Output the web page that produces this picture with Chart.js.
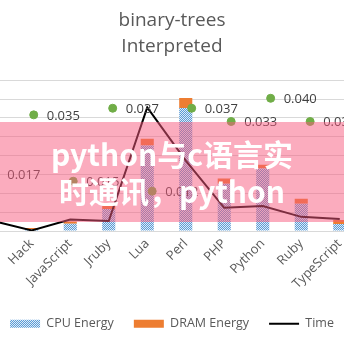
<!DOCTYPE html>
<html><head><meta charset="utf-8">
<script src="https://cdn.jsdelivr.net/npm/chart.js@4.4.1/dist/chart.umd.min.js"></script>
<style>
html,body{margin:0;padding:0;background:#fff;overflow:hidden;width:344px;height:344px;position:relative}
#c{position:absolute;left:-31px;top:0}
#wm{position:absolute;left:0;top:122px;width:344px;height:100px;background:rgba(247,90,125,0.5);display:flex;flex-direction:column;justify-content:center;align-items:center;color:#fff;font-family:'Noto Sans CJK SC';font-weight:700;font-size:30px;line-height:37px;white-space:nowrap}
</style></head><body>
<canvas id="c" width="406" height="344"></canvas>
<div id="wm"><div>python与c语言实</div><div>时通讯，python</div></div>
<script>
const categories = ['Dart','Hack','JavaScript','Jruby','Lua','Perl','PHP','Python','Ruby','TypeScript'];
const cpuEnergy = [3.0,0.8,3.9,11.7,45.3,65.3,25.1,33.1,14.4,3.7];
const dramEnergy = [0.5,0.8,1.2,1.6,3.7,5.3,2.7,2.1,2.7,2.1];
const timeValues = [5.3,0.3,6.1,5.3,65.6,37.3,12.3,13.3,7.5,6.4];
const pointValues = [0.017,0.035,0.015,0.037,0.012,0.037,0.033,0.040,0.033,0.030];
const pointLabels = ['0.017','0.035','0.015','0.037','0.012','0.037','0.033','0.040','0.033','0.030'];
const seriesNames = ['CPU Energy','DRAM Energy','Time'];
const titleLines = ['binary-trees','Interpreted'];

// hatched fill for CPU Energy
const pc = document.createElement('canvas');
pc.width = 4; pc.height = 4;
const pctx = pc.getContext('2d');
pctx.fillStyle = '#DDEBF7'; pctx.fillRect(0,0,4,4);
pctx.fillStyle = '#5B9BD5';
[[0,0],[2,0],[1,1],[3,1],[0,2],[2,2],[1,3],[3,3]].forEach(([a,b])=>pctx.fillRect(a,b,1,1));
const cpuPattern = pctx.createPattern(pc,'repeat');

const dotLabels = {
  id:'dotLabels',
  afterDatasetsDraw(chart){
    const meta = chart.getDatasetMeta(3);
    const ctx = chart.ctx;
    ctx.save();
    ctx.font = '13px "Open Sans"';
    ctx.fillStyle = '#404040';
    ctx.textAlign = 'left';
    ctx.textBaseline = 'middle';
    meta.data.forEach((p,i)=>ctx.fillText(pointLabels[i], p.x+13, p.y+1));
    ctx.restore();
  }
};

new Chart(document.getElementById('c').getContext('2d'), {
  type:'bar',
  data:{
    labels:categories,
    datasets:[
      {label:seriesNames[0], data:cpuEnergy, backgroundColor:cpuPattern, borderWidth:0, stack:'e', grouped:false, order:3, barPercentage:0.34, categoryPercentage:1},
      {label:seriesNames[1], data:dramEnergy, backgroundColor:'#ED7D31', borderWidth:0, stack:'e', grouped:false, order:3, barPercentage:0.34, categoryPercentage:1},
      {type:'line', label:seriesNames[2], data:timeValues, borderColor:'#000000', backgroundColor:'#000000', borderWidth:2, pointRadius:0, fill:false, tension:0, yAxisID:'yT', order:1},
      {type:'line', label:'points', data:pointValues.map((v,i)=>({x:i,y:v})), xAxisID:'xD', yAxisID:'yD', showLine:false, pointRadius:4, pointBackgroundColor:'#70AD47', pointBorderColor:'#70AD47', borderColor:'#70AD47', order:0}
    ]
  },
  options:{
    responsive:false, animation:false, devicePixelRatio:1,
    layout:{padding:{left:0,right:0,top:0,bottom:4}},
    scales:{
      x:{stacked:true, grid:{display:false}, border:{color:'#D9D9D9'},
         ticks:{autoSkip:false,maxRotation:45,minRotation:45,padding:-3,color:'#595959',font:{family:'Open Sans',size:13}},
         afterFit(s){ s.height=66.5; s.paddingLeft=0; s.paddingRight=0; }},
      y:{stacked:true,min:0,max:80,ticks:{display:false,stepSize:10},grid:{color:'#D9D9D9',drawTicks:false},border:{display:false},
         afterFit(s){ s.width=0; }},
      yT:{display:false,min:0,max:80},
      yD:{display:true,position:'right',min:0,max:0.04545,ticks:{display:false},grid:{display:false,drawTicks:false},border:{display:false},
         afterFit(s){ s.width=16; }},
      xD:{type:'linear',display:false,offset:false,min:-0.5125,max:9.2375}
    },
    plugins:{
      title:{display:true,text:titleLines,color:'#595959',font:{family:'Open Sans',size:19,weight:'normal',lineHeight:1.4},padding:{top:7,bottom:20}},
      legend:{position:'bottom',
        labels:{usePointStyle:true,pointStyleWidth:30,boxHeight:8,padding:20,color:'#595959',font:{family:'Open Sans',size:12.5},
          filter:(it)=>it.datasetIndex<3,
          sort:(a,b)=>a.datasetIndex-b.datasetIndex,
          generateLabels(chart){
            const items = Chart.defaults.plugins.legend.labels.generateLabels(chart);
            items.forEach(it=>{
              if(it.datasetIndex===2){ it.pointStyle='line'; it.strokeStyle='#000000'; it.lineWidth=2; }
              else { it.pointStyle='rect'; it.lineWidth=0; }
            });
            return items;
          }}},
      tooltip:{enabled:false}
    }
  },
  plugins:[dotLabels]
});
</script>
</body></html>
